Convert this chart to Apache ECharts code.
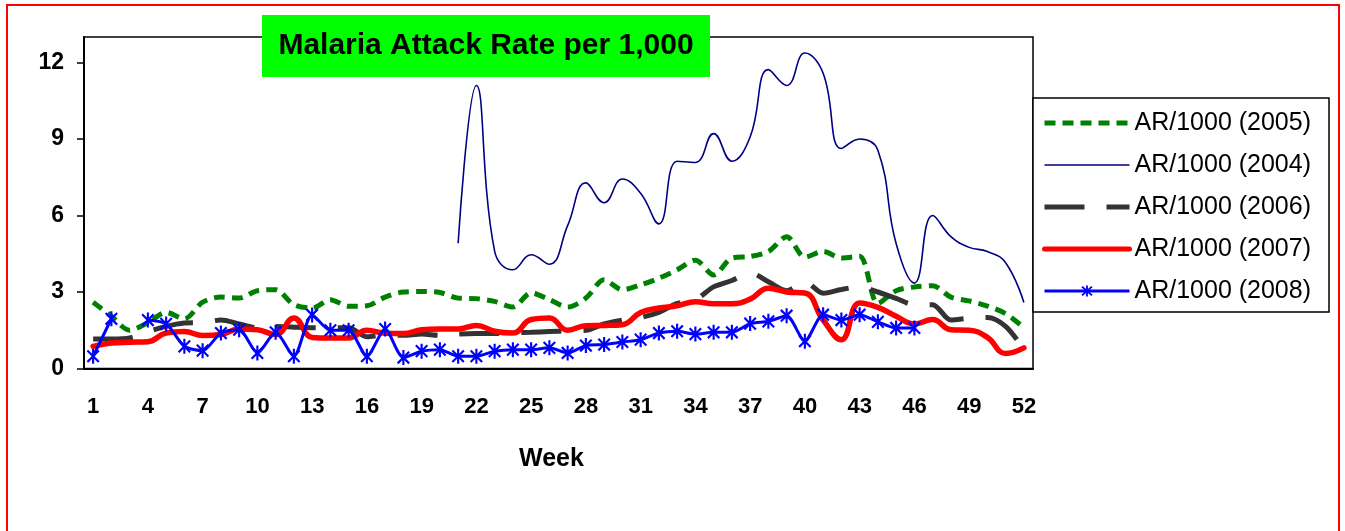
<!DOCTYPE html>
<html>
<head>
<meta charset="utf-8">
<script src="https://cdn.jsdelivr.net/npm/echarts@6/dist/echarts.min.js"></script>
<style>
  html, body { margin: 0; padding: 0; background: #fff; }
  #chart { width: 1345px; height: 531px; }
</style>
</head>
<body>
<div id="chart"></div>
<script>
// week numbers on the category axis
var weeks = ['1','2','3','4','5','6','7','8','9','10','11','12','13','14','15','16','17','18','19','20',
  '21','22','23','24','25','26','27','28','29','30','31','32','33','34','35','36','37','38','39','40',
  '41','42','43','44','45','46','47','48','49','50','51','52'];
var yTicks = [0, 3, 6, 9, 12];

// attack rate per 1,000
var ar2005 = [2.6, 2.05, 1.5, 1.8, 2.2, 1.95, 2.6, 2.8, 2.76, 3.05,
  3.09, 2.5, 2.37, 2.7, 2.44, 2.46, 2.8, 3.0, 3.02, 2.98,
  2.76, 2.74, 2.63, 2.41, 2.96, 2.7, 2.41, 2.76, 3.48, 3.09,
  3.28, 3.54, 3.87, 4.25, 3.67, 4.33, 4.39, 4.59, 5.17, 4.37,
  4.59, 4.33, 4.4, 2.55, 3.05, 3.2, 3.25, 2.8, 2.65, 2.45,
  2.15, 1.6];
var ar2004 = [null, null, null, null, null, null, null, null, null, null,
  null, null, null, null, null, null, null, null, null, null,
  4.91, 11.1, 4.6, 3.87, 4.46, 4.09, 5.6, 7.28, 6.5, 7.43,
  6.87, 5.67, 8.13, 8.08, 9.21, 8.13, 9.08, 11.72, 11.1, 12.37,
  11.58, 8.63, 9.0, 8.56, 4.9, 3.35, 6.0, 5.17, 4.75, 4.59,
  4.15, 2.59];
var ar2006 = [1.16, 1.16, 1.2, 1.45, 1.65, 1.78, 1.8, 1.9, 1.75, 1.6,
  1.65, 1.62, 1.6, 1.6, 1.6, 1.25, 1.33, 1.3, 1.35, 1.3,
  1.35, 1.37, 1.37, 1.4, 1.42, 1.45, 1.48, 1.5, 1.75, 1.9,
  2.0, 2.2, 2.55, 2.7, 3.2, 3.45, 3.75, 3.4, 3.05, 3.4,
  2.95, 3.1, 3.2, 3.0, 2.75, 2.5, 2.5, 1.9, 1.97, 2.0,
  1.65, 0.75];
var ar2007 = [0.87, 1.0, 1.03, 1.05, 1.39, 1.45, 1.29, 1.33, 1.55, 1.52,
  1.33, 1.98, 1.22, 1.2, 1.2, 1.5, 1.38, 1.37, 1.52, 1.55,
  1.55, 1.69, 1.46, 1.39, 1.92, 1.98, 1.5, 1.68, 1.69, 1.72,
  2.2, 2.37, 2.46, 2.62, 2.54, 2.54, 2.72, 3.15, 3.0, 2.96,
  1.9, 1.13, 2.57, 2.4, 2.05, 1.75, 1.92, 1.52, 1.5, 1.22,
  0.59, 0.81];
var ar2008 = [0.48, 1.95, null, 1.9, 1.75, 0.87, 0.7, 1.39, 1.52, 0.61,
  1.42, 0.48, 2.1, 1.5, 1.5, 0.48, 1.55, 0.43, 0.68, 0.74,
  0.48, 0.48, 0.68, 0.74, 0.74, 0.81, 0.61, 0.9, 0.94, 1.04,
  1.13, 1.39, 1.46, 1.35, 1.42, 1.42, 1.76, 1.85, 2.07, 1.07,
  2.11, 1.9, 2.11, 1.83, 1.59, 1.59, null, null, null, null,
  null, null];

var FONT = 'Arial, "Liberation Sans", sans-serif';
// asterisk marker: vertical bar + two diagonals
var star = 'path://M-1.3,-9L1.3,-9L1.3,9L-1.3,9Z' +
  'M-6.08,-7.92L7.92,6.08L6.08,7.92L-7.92,-6.08Z' +
  'M-7.92,6.08L6.08,-7.92L7.92,-6.08L-6.08,7.92Z';
// legend items of the plain lines get no dot in the middle
var noDot = { opacity: 0, borderWidth: 0 };

var chart = echarts.init(document.getElementById('chart'));

var option = {
  animation: false,
  backgroundColor: '#fff',
  title: {
    text: 'Malaria Attack Rate per 1,000',
    left: 486,
    top: 31,
    textAlign: 'center',
    padding: 0,
    z: 6,
    textStyle: { fontFamily: FONT, fontSize: 30, fontWeight: 'bold', color: '#000', lineHeight: 30 }
  },
  graphic: [
    // outer red frame
    { type: 'rect', silent: true, z: 1,
      shape: { x: 7, y: 5, width: 1332, height: 540 },
      style: { fill: null, stroke: '#ff0000', lineWidth: 2 } },
    // green title box
    { type: 'rect', silent: true, z: 5,
      shape: { x: 262, y: 15, width: 448, height: 62 },
      style: { fill: '#00ff00' } }
  ],
  legend: {
    orient: 'vertical',
    left: 1033,
    top: 98,
    padding: [12, 18, 8, 9],
    itemGap: 16,
    itemWidth: 85,
    itemHeight: 14,
    borderColor: '#000',
    borderWidth: 1.5,
    backgroundColor: '#fff',
    textStyle: { fontFamily: FONT, fontSize: 25, lineHeight: 26, color: '#000' },
    data: [
      { name: 'AR/1000 (2005)', lineStyle: { width: 5 }, itemStyle: noDot },
      { name: 'AR/1000 (2004)', lineStyle: { width: 1.6 }, itemStyle: noDot },
      { name: 'AR/1000 (2006)', lineStyle: { width: 5 }, itemStyle: noDot },
      { name: 'AR/1000 (2007)', lineStyle: { width: 5 }, itemStyle: noDot },
      { name: 'AR/1000 (2008)', lineStyle: { width: 3 } }
    ]
  },
  grid: {
    left: 84,
    top: 37,
    width: 949,
    height: 331.5,
    show: true,
    borderColor: '#000',
    borderWidth: 1.5,
    backgroundColor: '#fff',
    outerBoundsMode: 'none'
  },
  xAxis: {
    type: 'category',
    data: weeks,
    boundaryGap: true,
    axisLine: { lineStyle: { color: '#000', width: 2 } },
    axisTick: { interval: 0, length: 6, lineStyle: { color: '#000', width: 1.5 } },
    axisLabel: { interval: 2, margin: 27, fontFamily: FONT, fontSize: 22, fontWeight: 'bold', color: '#000' },
    splitLine: { show: false },
    name: 'Week',
    nameLocation: 'middle',
    nameGap: 78,
    nameTextStyle: { fontFamily: FONT, fontSize: 25, fontWeight: 'bold', color: '#000', padding: [0, 14, 0, 0] }
  },
  yAxis: {
    type: 'value',
    min: 0,
    max: 13,
    interval: 3,
    axisLine: { show: true, lineStyle: { color: '#000', width: 2 } },
    axisTick: { show: true, length: 7, customValues: yTicks, lineStyle: { color: '#000', width: 1.5 } },
    axisLabel: {
      customValues: yTicks,
      margin: 20,
      fontFamily: FONT, fontSize: 23, fontWeight: 'bold', color: '#000',
      formatter: function (v) { return v % 3 === 0 ? v : ''; }
    },
    splitLine: { show: false }
  },
  series: [
    {
      name: 'AR/1000 (2005)', type: 'line', data: ar2005,
      symbol: 'none', smooth: 0.3,
      lineStyle: { color: '#008000', width: 5, type: [11, 7], cap: 'butt' },
      itemStyle: { color: '#008000' }
    },
    {
      name: 'AR/1000 (2004)', type: 'line', data: ar2004,
      symbol: 'none', smooth: 0.45,
      lineStyle: { color: '#000080', width: 1.6 },
      itemStyle: { color: '#000080' }
    },
    {
      name: 'AR/1000 (2006)', type: 'line', data: ar2006,
      symbol: 'none', smooth: 0.3,
      lineStyle: { color: '#333333', width: 5, type: [40, 22], cap: 'butt' },
      itemStyle: { color: '#333333' }
    },
    {
      name: 'AR/1000 (2007)', type: 'line', data: ar2007,
      symbol: 'none', smooth: 0.45,
      lineStyle: { color: '#ff0000', width: 5.5, cap: 'round', join: 'round' },
      itemStyle: { color: '#ff0000' }
    },
    {
      name: 'AR/1000 (2008)', type: 'line', data: ar2008,
      symbol: star, symbolSize: [13, 15], showSymbol: true, showAllSymbol: true,
      smooth: 0.25,
      lineStyle: { color: '#0000ff', width: 3 },
      itemStyle: { color: '#0000ff' }
    }
  ]
};

chart.setOption(option);
</script>
</body>
</html>
